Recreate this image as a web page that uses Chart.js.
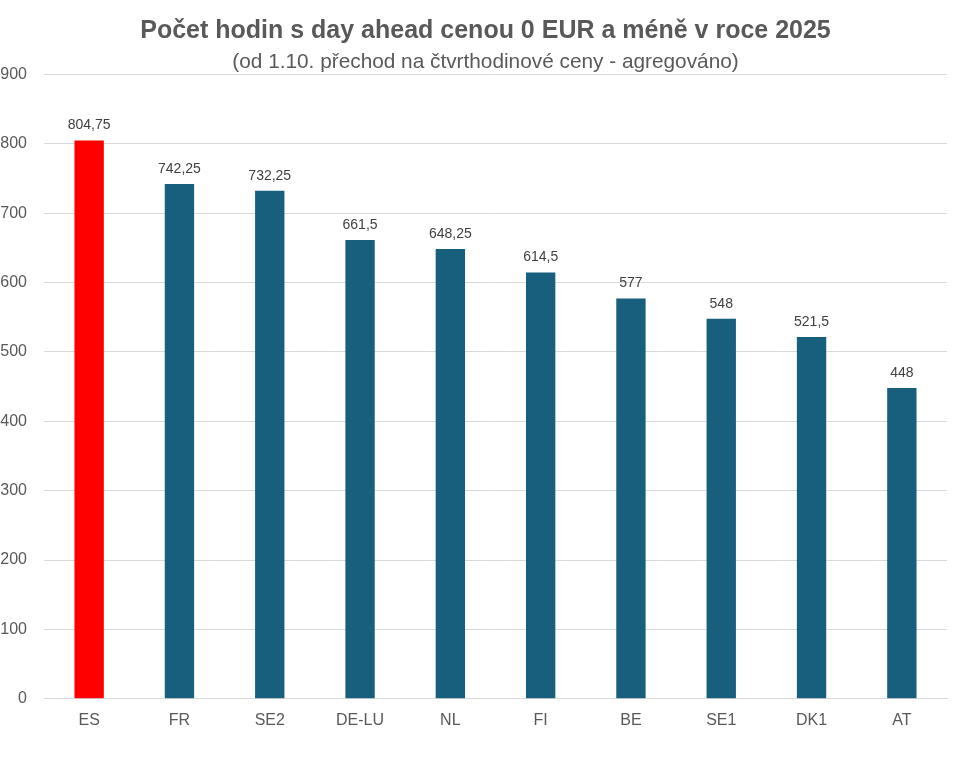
<!DOCTYPE html>
<html>
<head>
<meta charset="utf-8">
<script src="https://cdn.jsdelivr.net/npm/chart.js@4/dist/chart.umd.min.js"></script>
<style>
html,body{margin:0;padding:0;background:#fff;}
#wrap{width:971px;height:762px;}
</style>
</head>
<body>
<div id="wrap"><canvas id="c"></canvas></div>
<script>
const categories = ["ES","FR","SE2","DE-LU","NL","FI","BE","SE1","DK1","AT"];
const values = [804.75,742.25,732.25,661.5,648.25,614.5,577,548,521.5,448];
const barColors = ["#ff0000","#175f7d","#175f7d","#175f7d","#175f7d","#175f7d","#175f7d","#175f7d","#175f7d","#175f7d"];
const titleText = "Počet hodin s day ahead cenou 0 EUR a méně v roce 2025";
const subtitleText = "(od 1.10. přechod na čtvrthodinové ceny - agregováno)";

const labelPlugin = {
  id: 'valueLabels',
  afterDatasetsDraw(chart) {
    const ctx = chart.ctx;
    const meta = chart.getDatasetMeta(0);
    ctx.save();
    ctx.font = '14px "Liberation Sans", Arial, sans-serif';
    ctx.fillStyle = '#404040';
    ctx.textAlign = 'center';
    ctx.textBaseline = 'bottom';
    meta.data.forEach((bar, i) => {
      const v = values[i];
      const txt = String(v).replace('.', ',');
      ctx.fillText(txt, bar.x, bar.y - 8);
    });
    ctx.restore();
  }
};

new Chart(document.getElementById('c'), {
  type: 'bar',
  data: {
    labels: categories,
    datasets: [{
      data: values,
      backgroundColor: barColors,
      borderWidth: 0,
      barPercentage: 0.65,
      categoryPercentage: 0.5
    }]
  },
  options: {
    responsive: true,
    maintainAspectRatio: false,
    animation: false,
    devicePixelRatio: 1,
    layout: { padding: { left: 0, right: 0, top: 0, bottom: 20 } },
    plugins: {
      legend: { display: false },
      tooltip: { enabled: false },
      title: {
        display: true,
        text: titleText,
        color: '#595959',
        font: { family: '"Liberation Sans", Arial, sans-serif', size: 25, weight: 'bold', lineHeight: 1.2 },
        padding: { top: 16, bottom: 0 }
      },
      subtitle: {
        display: true,
        text: subtitleText,
        color: '#595959',
        font: { family: '"Liberation Sans", Arial, sans-serif', size: 20.8, weight: 'normal', lineHeight: 1.2 },
        padding: { top: 3.5, bottom: 0 }
      }
    },
    scales: {
      x: {
        grid: { display: false, drawTicks: false },
        border: { display: true, color: '#d9d9d9', width: 1 },
        ticks: {
          color: '#595959',
          font: { family: '"Liberation Sans", Arial, sans-serif', size: 16 },
          padding: 12
        }
      },
      y: {
        min: 0,
        max: 900,
        grid: { color: '#d9d9d9', drawTicks: false, lineWidth: 1 },
        border: { display: false },
        afterFit(scale) { scale.width = 44; },
        ticks: {
          stepSize: 100,
          color: '#595959',
          font: { family: '"Liberation Sans", Arial, sans-serif', size: 16 },
          padding: 17
        }
      },
      yRight: {
        position: 'right',
        min: 0,
        max: 900,
        grid: { display: false, drawTicks: false },
        border: { display: false },
        ticks: { display: false },
        afterFit(scale) { scale.width = 24; }
      }
    }
  },
  plugins: [labelPlugin]
});
</script>
</body>
</html>
